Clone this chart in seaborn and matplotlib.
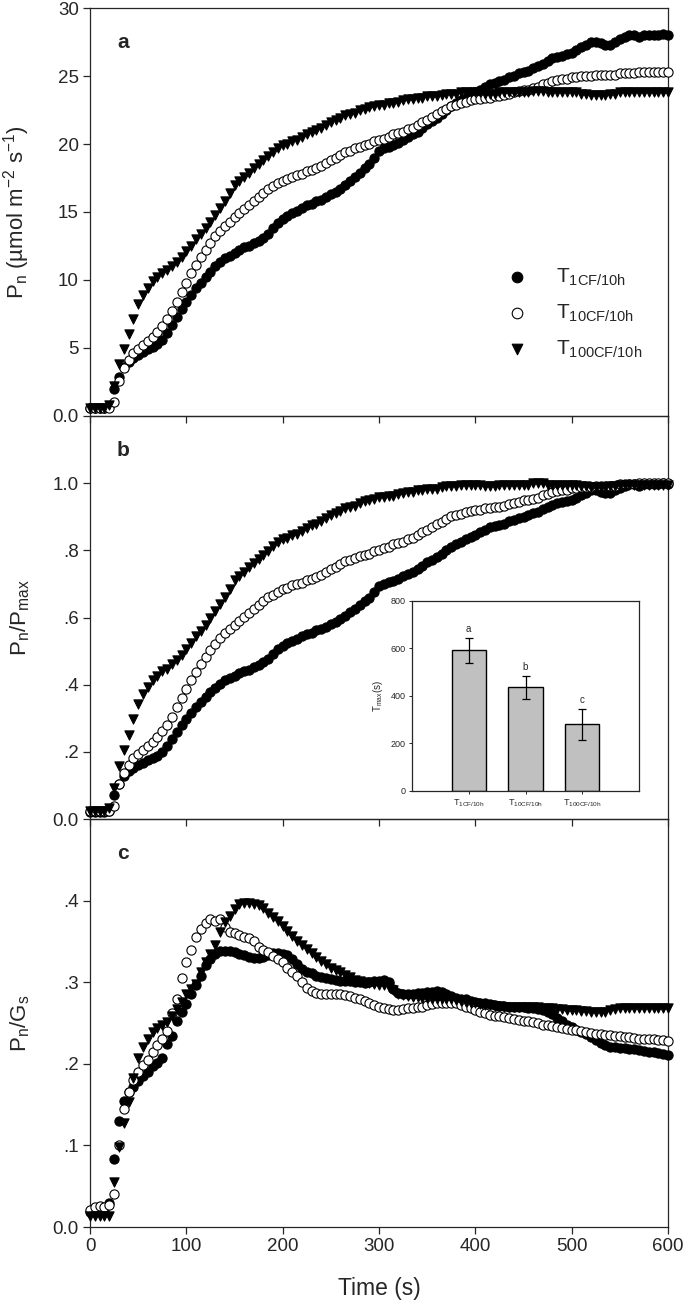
import matplotlib
import numpy as np

matplotlib.use('Agg')
import matplotlib.pyplot as plt
import seaborn as sns

# time stamps (s), one reading every 5 s
time_s = np.arange(0, 601, 5)

# panel a: Pn (umol m-2 s-1)
pn_t1 = [
    0.6, 0.6, 0.6, 0.6, 0.7, 2.0, 2.9, 3.6, 4.0, 4.3,
    4.5, 4.7, 4.9, 5.1, 5.3, 5.6, 6.1, 6.7, 7.3, 7.9,
    8.4, 8.9, 9.4, 9.8, 10.2, 10.6, 11.0, 11.3, 11.6, 11.8,
    12.0, 12.2, 12.4, 12.5, 12.7, 12.9, 13.1, 13.4, 13.8, 14.2,
    14.5, 14.7, 14.9, 15.1, 15.3, 15.5, 15.6, 15.8, 15.9, 16.1,
    16.3, 16.5, 16.7, 17.0, 17.3, 17.6, 17.9, 18.2, 18.5, 19.0,
    19.5, 19.7, 19.8, 19.9, 20.1, 20.3, 20.5, 20.7, 20.9, 21.2,
    21.5, 21.7, 21.9, 22.2, 22.5, 22.8, 23.0, 23.2, 23.4, 23.6,
    23.8, 24.0, 24.2, 24.4, 24.5, 24.6, 24.7, 24.9, 25.0, 25.2,
    25.3, 25.4, 25.6, 25.7, 25.9, 26.1, 26.3, 26.4, 26.5, 26.6,
    26.7, 26.9, 27.1, 27.3, 27.5, 27.5, 27.4, 27.3, 27.3, 27.5,
    27.7, 27.9, 28.0, 28.0, 27.9, 28.0, 28.0, 28.0, 28.0, 28.1, 28.0,
]
pn_t10 = [
    0.6, 0.6, 0.6, 0.6, 0.6, 1.0, 2.6, 3.5, 4.1, 4.6,
    4.9, 5.2, 5.5, 5.8, 6.2, 6.6, 7.1, 7.7, 8.4, 9.1,
    9.8, 10.5, 11.1, 11.7, 12.2, 12.7, 13.2, 13.6, 14.0, 14.3,
    14.6, 14.9, 15.2, 15.5, 15.8, 16.1, 16.4, 16.7, 16.9, 17.1,
    17.3, 17.4, 17.6, 17.7, 17.8, 18.0, 18.1, 18.2, 18.4, 18.6,
    18.8, 19.0, 19.2, 19.4, 19.5, 19.7, 19.8, 19.9, 20.0, 20.2,
    20.3, 20.4, 20.5, 20.7, 20.8, 20.9, 21.1, 21.2, 21.4, 21.6,
    21.8, 22.0, 22.2, 22.4, 22.6, 22.8, 22.9, 23.0, 23.1, 23.2,
    23.3, 23.3, 23.4, 23.4, 23.5, 23.5, 23.6, 23.7, 23.8, 23.9,
    24.0, 24.0, 24.1, 24.2, 24.4, 24.5, 24.6, 24.7, 24.8, 24.8,
    24.9, 24.9, 25.0, 25.0, 25.0, 25.1, 25.1, 25.1, 25.1, 25.1,
    25.2, 25.2, 25.2, 25.2, 25.3, 25.3, 25.3, 25.3, 25.3, 25.3, 25.3,
]
pn_t100 = [
    0.6, 0.6, 0.6, 0.6, 0.8, 2.2, 3.8, 4.9, 6.0, 7.1,
    8.2, 8.9, 9.4, 9.9, 10.2, 10.5, 10.7, 11.0, 11.3, 11.7,
    12.1, 12.5, 13.0, 13.4, 13.8, 14.3, 14.8, 15.3, 15.8, 16.4,
    17.0, 17.3, 17.6, 17.9, 18.2, 18.5, 18.8, 19.1, 19.4, 19.7,
    19.9, 20.0, 20.2, 20.3, 20.5, 20.7, 20.9, 21.0, 21.2, 21.4,
    21.6, 21.8, 21.9, 22.1, 22.2, 22.3, 22.5, 22.6, 22.7, 22.8,
    22.9, 22.9, 23.0, 23.0, 23.1, 23.2, 23.3, 23.3, 23.4, 23.4,
    23.5, 23.5, 23.5, 23.6, 23.7, 23.7, 23.7, 23.8, 23.8, 23.8,
    23.8, 23.8, 23.7, 23.7, 23.7, 23.8, 23.8, 23.8, 23.8, 23.8,
    23.8, 23.8, 23.9, 23.9, 23.9, 23.8, 23.8, 23.8, 23.8, 23.8,
    23.8, 23.8, 23.7, 23.7, 23.6, 23.6, 23.6, 23.6, 23.7, 23.7,
    23.8, 23.8, 23.8, 23.8, 23.8, 23.8, 23.8, 23.8, 23.8, 23.8, 23.8,
]

# panel c: Pn/Gs
gs_t1 = [
    0.018, 0.018, 0.019, 0.020, 0.030, 0.083, 0.130, 0.155, 0.165, 0.172,
    0.179, 0.185, 0.190, 0.197, 0.201, 0.207, 0.224, 0.234, 0.252, 0.264,
    0.273, 0.285, 0.296, 0.308, 0.321, 0.329, 0.334, 0.338, 0.338, 0.338,
    0.337, 0.335, 0.333, 0.331, 0.330, 0.330, 0.331, 0.333, 0.336, 0.336,
    0.335, 0.333, 0.328, 0.322, 0.316, 0.313, 0.311, 0.308, 0.306, 0.305,
    0.304, 0.303, 0.302, 0.302, 0.301, 0.300, 0.300, 0.299, 0.300, 0.301,
    0.302, 0.303, 0.300, 0.292, 0.287, 0.286, 0.286, 0.286, 0.287, 0.287,
    0.288, 0.288, 0.289, 0.288, 0.285, 0.283, 0.281, 0.280, 0.279, 0.277,
    0.276, 0.275, 0.274, 0.273, 0.272, 0.271, 0.271, 0.270, 0.270, 0.269,
    0.269, 0.268, 0.268, 0.267, 0.266, 0.264, 0.261, 0.256, 0.252, 0.248,
    0.245, 0.242, 0.239, 0.236, 0.233, 0.229, 0.226, 0.223, 0.221, 0.220,
    0.219, 0.219, 0.218, 0.218, 0.217, 0.216, 0.215, 0.214, 0.213, 0.212, 0.211,
]
gs_t10 = [
    0.021, 0.024, 0.026, 0.024, 0.027, 0.040, 0.100, 0.145, 0.165, 0.180,
    0.190, 0.198, 0.205, 0.214, 0.223, 0.231, 0.240, 0.262, 0.280, 0.305,
    0.325, 0.340, 0.356, 0.365, 0.373, 0.377, 0.375, 0.378, 0.368, 0.362,
    0.360, 0.358, 0.355, 0.354, 0.350, 0.343, 0.340, 0.337, 0.332, 0.328,
    0.325, 0.318, 0.313, 0.307, 0.300, 0.293, 0.289, 0.287, 0.286, 0.286,
    0.286, 0.286, 0.285, 0.284, 0.283, 0.281, 0.279, 0.277, 0.275, 0.272,
    0.270, 0.268, 0.267, 0.266, 0.266, 0.267, 0.268, 0.268, 0.269, 0.270,
    0.272, 0.273, 0.274, 0.275, 0.275, 0.275, 0.274, 0.272, 0.270, 0.268,
    0.266, 0.264, 0.262, 0.260, 0.259, 0.258, 0.257, 0.256, 0.255, 0.254,
    0.253, 0.252, 0.251, 0.250, 0.248, 0.247, 0.246, 0.245, 0.244, 0.243,
    0.242, 0.241, 0.240, 0.239, 0.238, 0.237, 0.236, 0.235, 0.235, 0.234,
    0.234, 0.233, 0.233, 0.232, 0.231, 0.231, 0.230, 0.230, 0.229, 0.229, 0.228,
]
gs_t100 = [
    0.013, 0.013, 0.013, 0.013, 0.014, 0.055, 0.098, 0.127, 0.153, 0.183,
    0.207, 0.220, 0.230, 0.239, 0.244, 0.248, 0.251, 0.258, 0.267, 0.276,
    0.285, 0.292, 0.298, 0.313, 0.325, 0.335, 0.345, 0.362, 0.374, 0.381,
    0.390, 0.396, 0.397, 0.397, 0.396, 0.394, 0.391, 0.385, 0.380, 0.375,
    0.369, 0.363, 0.357, 0.351, 0.346, 0.341, 0.336, 0.331, 0.326, 0.322,
    0.318, 0.315, 0.312, 0.309, 0.306, 0.303, 0.302, 0.300, 0.299, 0.298,
    0.297, 0.297, 0.294, 0.290, 0.286, 0.284, 0.283, 0.282, 0.282, 0.281,
    0.281, 0.280, 0.280, 0.280, 0.279, 0.279, 0.278, 0.277, 0.276, 0.275,
    0.274, 0.273, 0.272, 0.272, 0.271, 0.271, 0.270, 0.270, 0.270, 0.270,
    0.270, 0.269, 0.269, 0.269, 0.268, 0.268, 0.268, 0.267, 0.267, 0.266,
    0.266, 0.266, 0.265, 0.265, 0.264, 0.263, 0.263, 0.264, 0.266, 0.267,
    0.268, 0.268, 0.268, 0.268, 0.268, 0.268, 0.268, 0.268, 0.268, 0.268, 0.268,
]

# inset: time to reach Pmax
inset_groups = ['T$_{1CF/10h}$', 'T$_{10CF/10h}$', 'T$_{100CF/10h}$']
tmax_mean = [592, 437, 280]
tmax_err = [53, 48, 65]
tmax_letters = ['a', 'b', 'c']

series_labels = ['T$_{1CF/10h}$', 'T$_{10CF/10h}$', 'T$_{100CF/10h}$']
x_ticks = [0, 100, 200, 300, 400, 500, 600]
a_ticks, a_ticklabels = [0, 5, 10, 15, 20, 25, 30], ['0.0', '5', '10', '15', '20', '25', '30']
b_ticks, b_ticklabels = [0, 0.2, 0.4, 0.6, 0.8, 1.0], ['0.0', '.2', '.4', '.6', '.8', '1.0']
c_ticks, c_ticklabels = [0, 0.1, 0.2, 0.3, 0.4], ['0.0', '.1', '.2', '.3', '.4']

for name, arr in [('pn_t1', pn_t1), ('pn_t10', pn_t10), ('pn_t100', pn_t100),
                  ('gs_t1', gs_t1), ('gs_t10', gs_t10), ('gs_t100', gs_t100)]:
    assert len(arr) == len(time_s), name

sns.set_style('ticks')
plt.rcParams['font.family'] = ['Liberation Sans', 'DejaVu Sans']
plt.rcParams['mathtext.fontset'] = 'custom'
plt.rcParams['mathtext.rm'] = 'Liberation Sans'
plt.rcParams['mathtext.it'] = 'Liberation Sans:italic'
plt.rcParams['mathtext.bf'] = 'Liberation Sans:bold'
plt.rcParams['mathtext.default'] = 'regular'
plt.rcParams['axes.linewidth'] = 0.9

fig = plt.figure(figsize=(6.85, 13.07), dpi=100)
W, H = 685.0, 1307.0
left, right = 90 / W, 668 / W
edges = [8, 416, 819, 1227]
axes = []
for top_px, bot_px in zip(edges[:-1], edges[1:]):
    ax = fig.add_axes([left, 1 - bot_px / H, right - left, (bot_px - top_px) / H])
    ax.set_facecolor('none')
    axes.append(ax)
ax_a, ax_b, ax_c = axes

styles = [
    dict(marker='o', color='black', edgecolor='black'),
    dict(marker='o', color='white', edgecolor='black'),
    dict(marker='v', color='black', edgecolor='black'),
]
order = [0, 2, 1]


def draw_panel(ax, series, with_labels=False):
    for i in order:
        sns.scatterplot(x=time_s, y=series[i], ax=ax, s=44, linewidth=0.8,
                        clip_on=False, zorder=3 + i,
                        label=series_labels[i] if with_labels else None, **styles[i])


pn = [np.array(pn_t1), np.array(pn_t10), np.array(pn_t100)]
ratio = [p / p.max() for p in pn]
gs = [gs_t1, gs_t10, gs_t100]

draw_panel(ax_a, pn, with_labels=True)
draw_panel(ax_b, ratio)
draw_panel(ax_c, gs)

panel_setup = [
    (ax_a, (0, 30), a_ticks, a_ticklabels, 'P$_n$ (µmol m$^{-2}$ s$^{-1}$)', 'a'),
    (ax_b, (0, 1.2), b_ticks, b_ticklabels, 'P$_n$/P$_{max}$', 'b'),
    (ax_c, (0, 0.5), c_ticks, c_ticklabels, 'P$_n$/G$_s$', 'c'),
]
for ax, ylim, ticks, ticklabels, ylabel, letter in panel_setup:
    ax.set_xlim(0, 600)
    ax.set_ylim(*ylim)
    ax.set_xticks(x_ticks)
    ax.set_yticks(ticks)
    ax.set_yticklabels(ticklabels)
    ax.tick_params(direction='out', length=5, width=0.9, labelsize=13.5, pad=3)
    ax.set_ylabel(ylabel, fontsize=16)
    ax.yaxis.set_label_coords(-0.10, 0.5)
    ax.text(0.057, 0.915, letter, transform=ax.transAxes, fontsize=15,
            fontweight='bold', ha='center', va='center')
    for sp in ax.spines.values():
        sp.set_visible(True)
        sp.set_linewidth(0.9)

ax_a.tick_params(axis='x', labelbottom=False)
ax_b.tick_params(axis='x', labelbottom=False)
ax_c.set_xticklabels([str(v) for v in x_ticks])
ax_c.set_xlabel('Time (s)', fontsize=16.5, labelpad=16)

handles, labels = ax_a.get_legend_handles_labels()
lab_order = [labels.index(l) for l in series_labels]
ax_a.legend([handles[k] for k in lab_order], [labels[k] for k in lab_order],
            loc='center left', bbox_to_anchor=(0.72, 0.252), frameon=False,
            fontsize=15, markerscale=1.15, handlelength=1.0, handletextpad=1.4,
            labelspacing=0.72, borderpad=0, borderaxespad=0)

# inset bar chart inside panel b
ins = fig.add_axes([412 / W, 1 - 791 / H, 227 / W, 190 / H])
ins.set_facecolor('white')
ins.set_zorder(10)
sns.barplot(x=inset_groups, y=tmax_mean, ax=ins, color='#c0c0c0', edgecolor='black',
            linewidth=1.0, width=0.6, errorbar=None, saturation=1)
ins.errorbar(range(len(tmax_mean)), tmax_mean, yerr=tmax_err, fmt='none',
             ecolor='black', elinewidth=0.9, capsize=3, capthick=0.9)
for i, (m, e, lt) in enumerate(zip(tmax_mean, tmax_err, tmax_letters)):
    ins.text(i, m + e + 18, lt, ha='center', va='bottom', fontsize=7)
ins.set_xlim(-1, 3)
ins.set_ylim(0, 800)
ins.set_yticks([0, 200, 400, 600, 800])
ins.tick_params(direction='out', length=2.5, width=0.7, labelsize=6.5, pad=2)
ins.set_ylabel('T$_{max}$(s)', fontsize=7, labelpad=4)
for sp in ins.spines.values():
    sp.set_visible(True)
    sp.set_linewidth(0.9)

fig.savefig('out.png', dpi=100)
plt.close(fig)
